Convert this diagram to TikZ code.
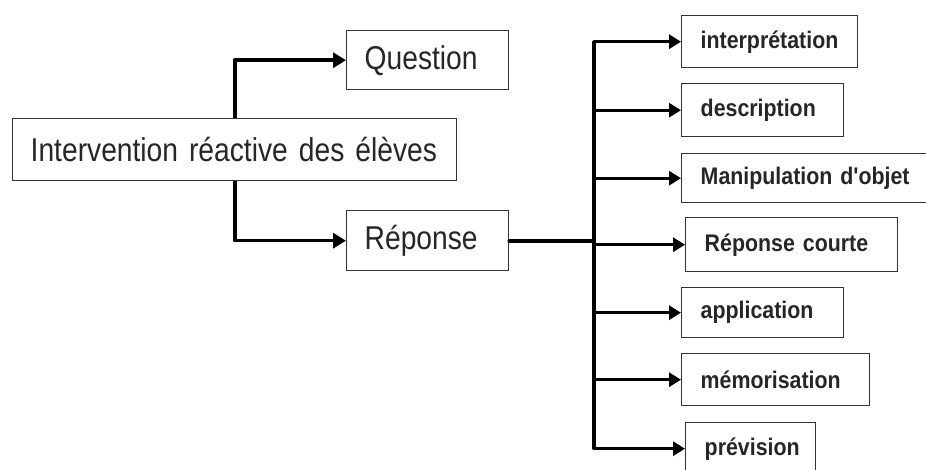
\documentclass[tikz,border=0pt]{standalone}
\usepackage{fontspec}
\setmainfont{Liberation Sans}
\newfontfamily\mainf[FakeStretch=0.855]{Liberation Sans}
\newfontfamily\smallf[FakeStretch=0.89]{Liberation Sans}
\usetikzlibrary{arrows.meta}
\begin{document}
\begin{tikzpicture}[x=1pt,y=-1pt,
  bigbox/.style={draw=black!80, line width=1.4pt, rectangle, inner xsep=18pt, inner ysep=0pt,
    anchor=north west, align=left, text=black!85, font=\mainf\fontsize{33}{33}\selectfont},
  smallbox/.style={draw=black!80, line width=1.4pt, rectangle, inner xsep=19pt, inner ysep=0pt,
    anchor=north west, align=left, text=black!85, font=\smallf\bfseries\fontsize{24}{24}\selectfont},
  arr/.style={line width=3.6pt, line join=round, -{Triangle[length=13pt,width=15pt]}},
  arrs/.style={line width=3.2pt, line join=round, -{Triangle[length=12pt,width=14pt]}},
  busline/.style={line width=4pt, line cap=round, line join=round}]
\useasboundingbox (0,0) rectangle (926,470);
\clip (0,0) rectangle (926,470);

\node[bigbox, text width=408pt, minimum height=62pt] (main) at (12,118) {Intervention réactive des élèves};
\node[bigbox, text width=126pt, minimum height=59pt] (question) at (346,30) {Question};
\node[bigbox, text width=126pt, minimum height=60pt] (reponse) at (346,210) {Réponse};

\node[smallbox, text width=138pt, minimum height=52pt] (interp) at (681,15) {interprétation};
\node[smallbox, text width=124pt, minimum height=53pt] (descr) at (681,83) {description};
\node[smallbox, text width=222pt, minimum height=49pt] (manip) at (681,153) {Manipulation d'objet};
\node[smallbox, text width=174pt, minimum height=54pt] (court) at (685,217) {Réponse courte};
\node[smallbox, text width=124pt, minimum height=50pt] (applic) at (681,287) {application};
\node[smallbox, text width=150pt, minimum height=52pt] (memo) at (681,353) {mémorisation};
\node[smallbox, text width=92pt, minimum height=52pt] (prev) at (685,422) {prévision};

\draw[arr] (main.north) |- (question.west);
\draw[arr] (main.south) |- (reponse.west);

\coordinate (bus) at (594,0);
\draw[busline] (reponse.east) -- (bus |- reponse.east);
\draw[arrs] (bus |- prev.west) |- (interp.west);
\draw[arrs] (bus |- interp.west) |- (prev.west);
\draw[arrs] (bus |- descr.west) -- (descr.west);
\draw[arrs] (bus |- manip.west) -- (manip.west);
\draw[arrs] (bus |- court.west) -- (court.west);
\draw[arrs] (bus |- applic.west) -- (applic.west);
\draw[arrs] (bus |- memo.west) -- (memo.west);
\end{tikzpicture}
\end{document}
